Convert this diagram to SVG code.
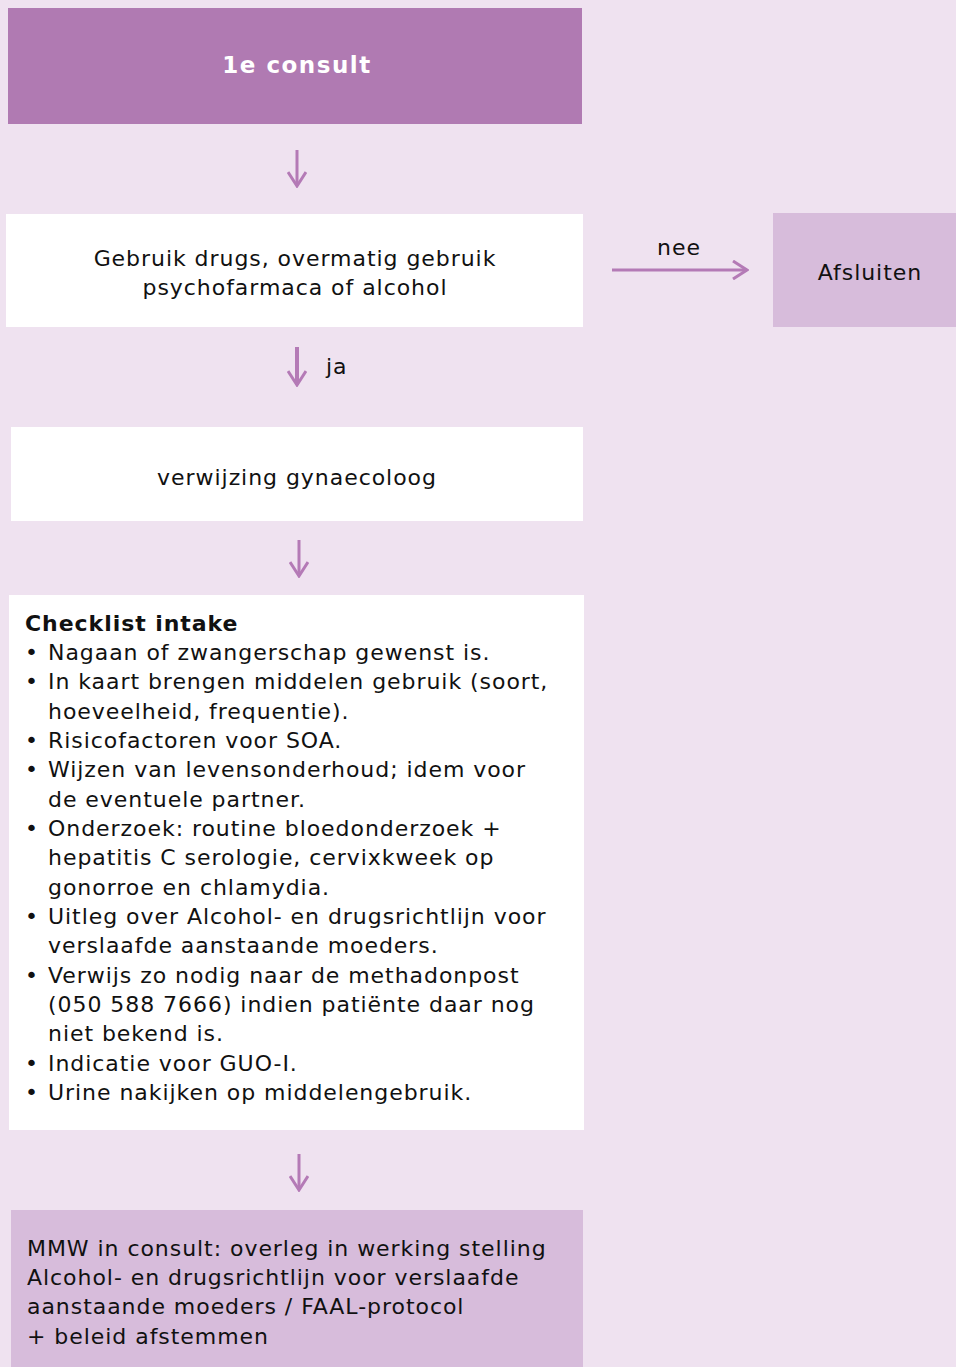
<svg xmlns="http://www.w3.org/2000/svg" width="956" height="1367" viewBox="0 0 956 1367">
<style>
text{font-family:"DejaVu Sans",Verdana,sans-serif;font-size:22px;fill:#111;letter-spacing:0.95px}
.c{text-anchor:middle}
.b{font-weight:bold}
.w{fill:#fff}
.h{font-size:23px;letter-spacing:1.5px}
.arr{stroke:#b47ab6;stroke-width:3;fill:none}
</style>
<defs>
<marker id="ah" viewBox="0 0 20 20" refX="18" refY="10" markerWidth="20" markerHeight="20" markerUnits="userSpaceOnUse" orient="auto">
<path d="M4 1 L18 10 L4 19" stroke="#b47ab6" stroke-width="3" fill="none"/>
</marker>
</defs>
<rect width="956" height="1367" fill="#efe2f0"/>
<g id="consult">
<rect x="8" y="8" width="574" height="116" fill="#b07ab2"/>
<text class="c b w h" x="297" y="73">1e consult</text>
</g>
<g id="gebruik">
<rect x="6" y="214" width="577" height="113" fill="#fff"/>
<text class="c" x="295" y="266">Gebruik drugs, overmatig gebruik</text>
<text class="c" x="295" y="295">psychofarmaca of alcohol</text>
</g>
<g id="afsluiten">
<rect x="773" y="213" width="183" height="114" fill="#d7bcdb"/>
<text class="c" x="870" y="280">Afsluiten</text>
</g>
<g id="verwijzing">
<rect x="11" y="427" width="572" height="94" fill="#fff"/>
<text class="c" x="297" y="485">verwijzing gynaecoloog</text>
</g>
<g id="checklist">
<rect x="9" y="595" width="575" height="535" fill="#fff"/>
<text x="25" y="631" class="b">Checklist intake</text>
<g>
<text x="25" y="660">•</text><text x="48" y="660">Nagaan of zwangerschap gewenst is.</text>
<text x="25" y="689">•</text><text x="48" y="689">In kaart brengen middelen gebruik (soort,</text>
<text x="48" y="719">hoeveelheid, frequentie).</text>
<text x="25" y="748">•</text><text x="48" y="748">Risicofactoren voor SOA.</text>
<text x="25" y="777">•</text><text x="48" y="777">Wijzen van levensonderhoud; idem voor</text>
<text x="48" y="807">de eventuele partner.</text>
<text x="25" y="836">•</text><text x="48" y="836">Onderzoek: routine bloedonderzoek +</text>
<text x="48" y="865">hepatitis C serologie, cervixkweek op</text>
<text x="48" y="895">gonorroe en chlamydia.</text>
<text x="25" y="924">•</text><text x="48" y="924">Uitleg over Alcohol- en drugsrichtlijn voor</text>
<text x="48" y="953">verslaafde aanstaande moeders.</text>
<text x="25" y="983">•</text><text x="48" y="983">Verwijs zo nodig naar de methadonpost</text>
<text x="48" y="1012">(050 588 7666) indien patiënte daar nog</text>
<text x="48" y="1041">niet bekend is.</text>
<text x="25" y="1071">•</text><text x="48" y="1071">Indicatie voor GUO-I.</text>
<text x="25" y="1100">•</text><text x="48" y="1100">Urine nakijken op middelengebruik.</text>
</g>
</g>
<g id="mmw">
<rect x="11" y="1210" width="572" height="157" fill="#d7bcdb"/>
<text x="27" y="1256">MMW in consult: overleg in werking stelling</text>
<text x="27" y="1285">Alcohol- en drugsrichtlijn voor verslaafde</text>
<text x="27" y="1314">aanstaande moeders / FAAL-protocol</text>
<text x="27" y="1344">+ beleid afstemmen</text>
</g>
<g id="connectors">
<line class="arr" x1="297" y1="150" x2="297" y2="186" marker-end="url(#ah)"/>
<line class="arr" x1="612" y1="270" x2="747" y2="270" marker-end="url(#ah)"/>
<text class="c" x="679" y="255">nee</text>
<line class="arr" x1="297" y1="347" x2="297" y2="385" style="stroke-width:4" marker-end="url(#ah)"/>
<text x="326" y="374">ja</text>
<line class="arr" x1="299" y1="540" x2="299" y2="576" marker-end="url(#ah)"/>
<line class="arr" x1="299" y1="1154" x2="299" y2="1190" marker-end="url(#ah)"/>
</g>
</svg>
